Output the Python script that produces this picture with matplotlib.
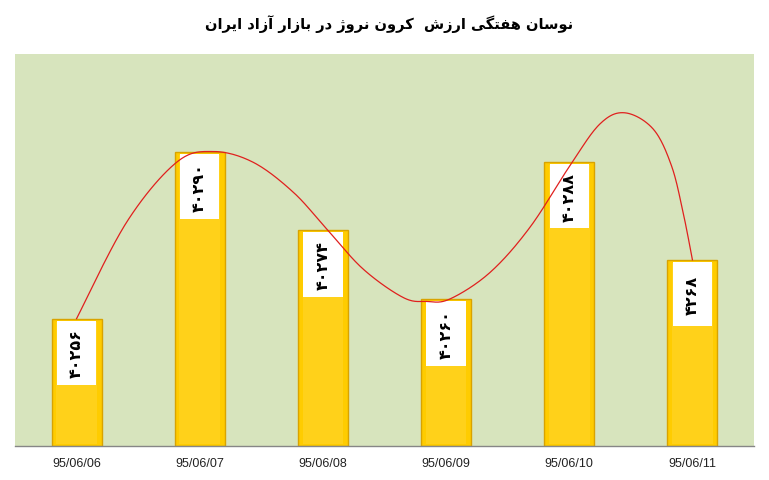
import numpy as np
import matplotlib
matplotlib.use('Agg')
import matplotlib.pyplot as plt

dates = ['95/06/06', '95/06/07', '95/06/08', '95/06/09', '95/06/10', '95/06/11']
prices = [40256, 40290, 40274, 40260, 40288, 40268]
price_labels = ['۴۰۲۵۶', '۴۰۲۹۰', '۴۰۲۷۴', '۴۰۲۶۰', '۴۰۲۸۸', '۴۲۶۸']
title = 'نوسان هفتگی ارزش  کرون نروژ در بازار آزاد ایران'

# red trend curve (category index, value)
curve_x = [0, 0.407, 0.812, 1.11, 1.434, 1.759, 2.03, 2.327, 2.652, 2.842,
           3.031, 3.356, 3.68, 4.005, 4.248, 4.451, 4.681, 4.83, 4.924, 5]
curve_y = [40256, 40275.7, 40287.9, 40290.1, 40287.9, 40281.8, 40274.3, 40266.1,
           40260.3, 40259.5, 40260.0, 40265.4, 40274.6, 40287.2, 40295.7, 40298.0,
           40294.7, 40287.2, 40277.7, 40268]

# persian shaping by hand (matplotlib has no text shaping)
forms = {
    'ا': ('\uFE8D', '\uFE8E', None, None),
    'آ': ('\uFE81', '\uFE82', None, None),
    'د': ('\uFEA9', '\uFEAA', None, None),
    'ر': ('\uFEAD', '\uFEAE', None, None),
    'ز': ('\uFEAF', '\uFEB0', None, None),
    'ژ': ('\uFB8A', '\uFB8B', None, None),
    'و': ('\uFEED', '\uFEEE', None, None),
    'ب': ('\uFE8F', '\uFE90', '\uFE91', '\uFE92'),
    'ت': ('\uFE95', '\uFE96', '\uFE97', '\uFE98'),
    'س': ('\uFEB1', '\uFEB2', '\uFEB3', '\uFEB4'),
    'ش': ('\uFEB5', '\uFEB6', '\uFEB7', '\uFEB8'),
    'ف': ('\uFED1', '\uFED2', '\uFED3', '\uFED4'),
    'ن': ('\uFEE5', '\uFEE6', '\uFEE7', '\uFEE8'),
    'ه': ('\uFEE9', '\uFEEA', '\uFEEB', '\uFEEC'),
    'ک': ('\uFB8E', '\uFB8F', '\uFB90', '\uFB91'),
    'گ': ('\uFB92', '\uFB93', '\uFB94', '\uFB95'),
    'ی': ('\uFBFC', '\uFBFD', '\uFBFE', '\uFBFF'),
}

def shape(s):
    out = []
    for i, c in enumerate(s):
        if c not in forms:
            out.append(c)
            continue
        prev = i > 0 and s[i-1] in forms and forms[s[i-1]][2] is not None
        nxt = i < len(s) - 1 and s[i+1] in forms and forms[c][2] is not None
        if prev and nxt:
            out.append(forms[c][3])
        elif prev:
            out.append(forms[c][1])
        elif nxt:
            out.append(forms[c][2])
        else:
            out.append(forms[c][0])
    return ''.join(out[::-1])

def catmull(xs, ys, sx=123.2, sy=4.9, n=24):
    p = np.column_stack([np.array(xs) * sx, np.array(ys) * sy])
    p = np.vstack([p[0], p, p[-1]])
    pts = []
    t = np.linspace(0, 1, n, endpoint=False)[:, None]
    for i in range(1, len(p) - 2):
        p0, p1, p2, p3 = p[i-1], p[i], p[i+1], p[i+2]
        seg = 0.5 * (2*p1 + (-p0 + p2)*t + (2*p0 - 5*p1 + 4*p2 - p3)*t**2
                     + (-p0 + 3*p1 - 3*p2 + p3)*t**3)
        pts.append(seg)
    pts.append(p[-2][None, :])
    pts = np.vstack(pts)
    return pts[:, 0] / sx, pts[:, 1] / sy

plt.rcParams['font.family'] = ['DejaVu Sans']

fig = plt.figure(figsize=(7.69, 4.81), dpi=100)
fig.patch.set_facecolor('white')
ax = fig.add_axes([15/769, 34/481, 739/769, 392/481])
ax.set_facecolor('#D7E4BD')

x = np.arange(len(prices))
ymin = 40230
ax.bar(x, np.array(prices) - ymin, bottom=ymin, width=0.405, color='#FFCC00',
       edgecolor='#D9A300', linewidth=1.0, zorder=2)
# lighter inner face
ax.bar(x, np.array(prices) - ymin - 1.0, bottom=ymin + 0.4, width=0.33, color='#FFD11A',
       linewidth=0, zorder=2)

# white label boxes
ax.bar(x, 13.2, bottom=np.array(prices) - 13.6, width=0.32, color='white', linewidth=0, zorder=3)
for xi, p, lab in zip(x, prices, price_labels):
    ax.text(xi, p - 7.0, lab, rotation=90, ha='center', va='center', fontsize=11.5,
            fontweight='bold', color='black', zorder=4)

cx, cy = catmull(curve_x, curve_y)
ax.plot(cx, cy, color='#E0201E', linewidth=0.9, zorder=5)

ax.set_xlim(-0.5, 5.5)
ax.set_ylim(ymin, 40310)
ax.set_xticks(x)
ax.set_xticklabels(dates, fontsize=9, color='#222222', family='Liberation Sans')
ax.tick_params(axis='x', length=0, pad=8)
ax.set_yticks([])
for side in ['left', 'right', 'top']:
    ax.spines[side].set_visible(False)
ax.spines['bottom'].set_color('#868686')
ax.spines['bottom'].set_linewidth(1)

fig.text(389/769, 1 - 24/481, shape(title), ha='center', va='center', fontsize=10.5,
         fontweight='bold', color='black')

fig.savefig('out.png', dpi=100)
